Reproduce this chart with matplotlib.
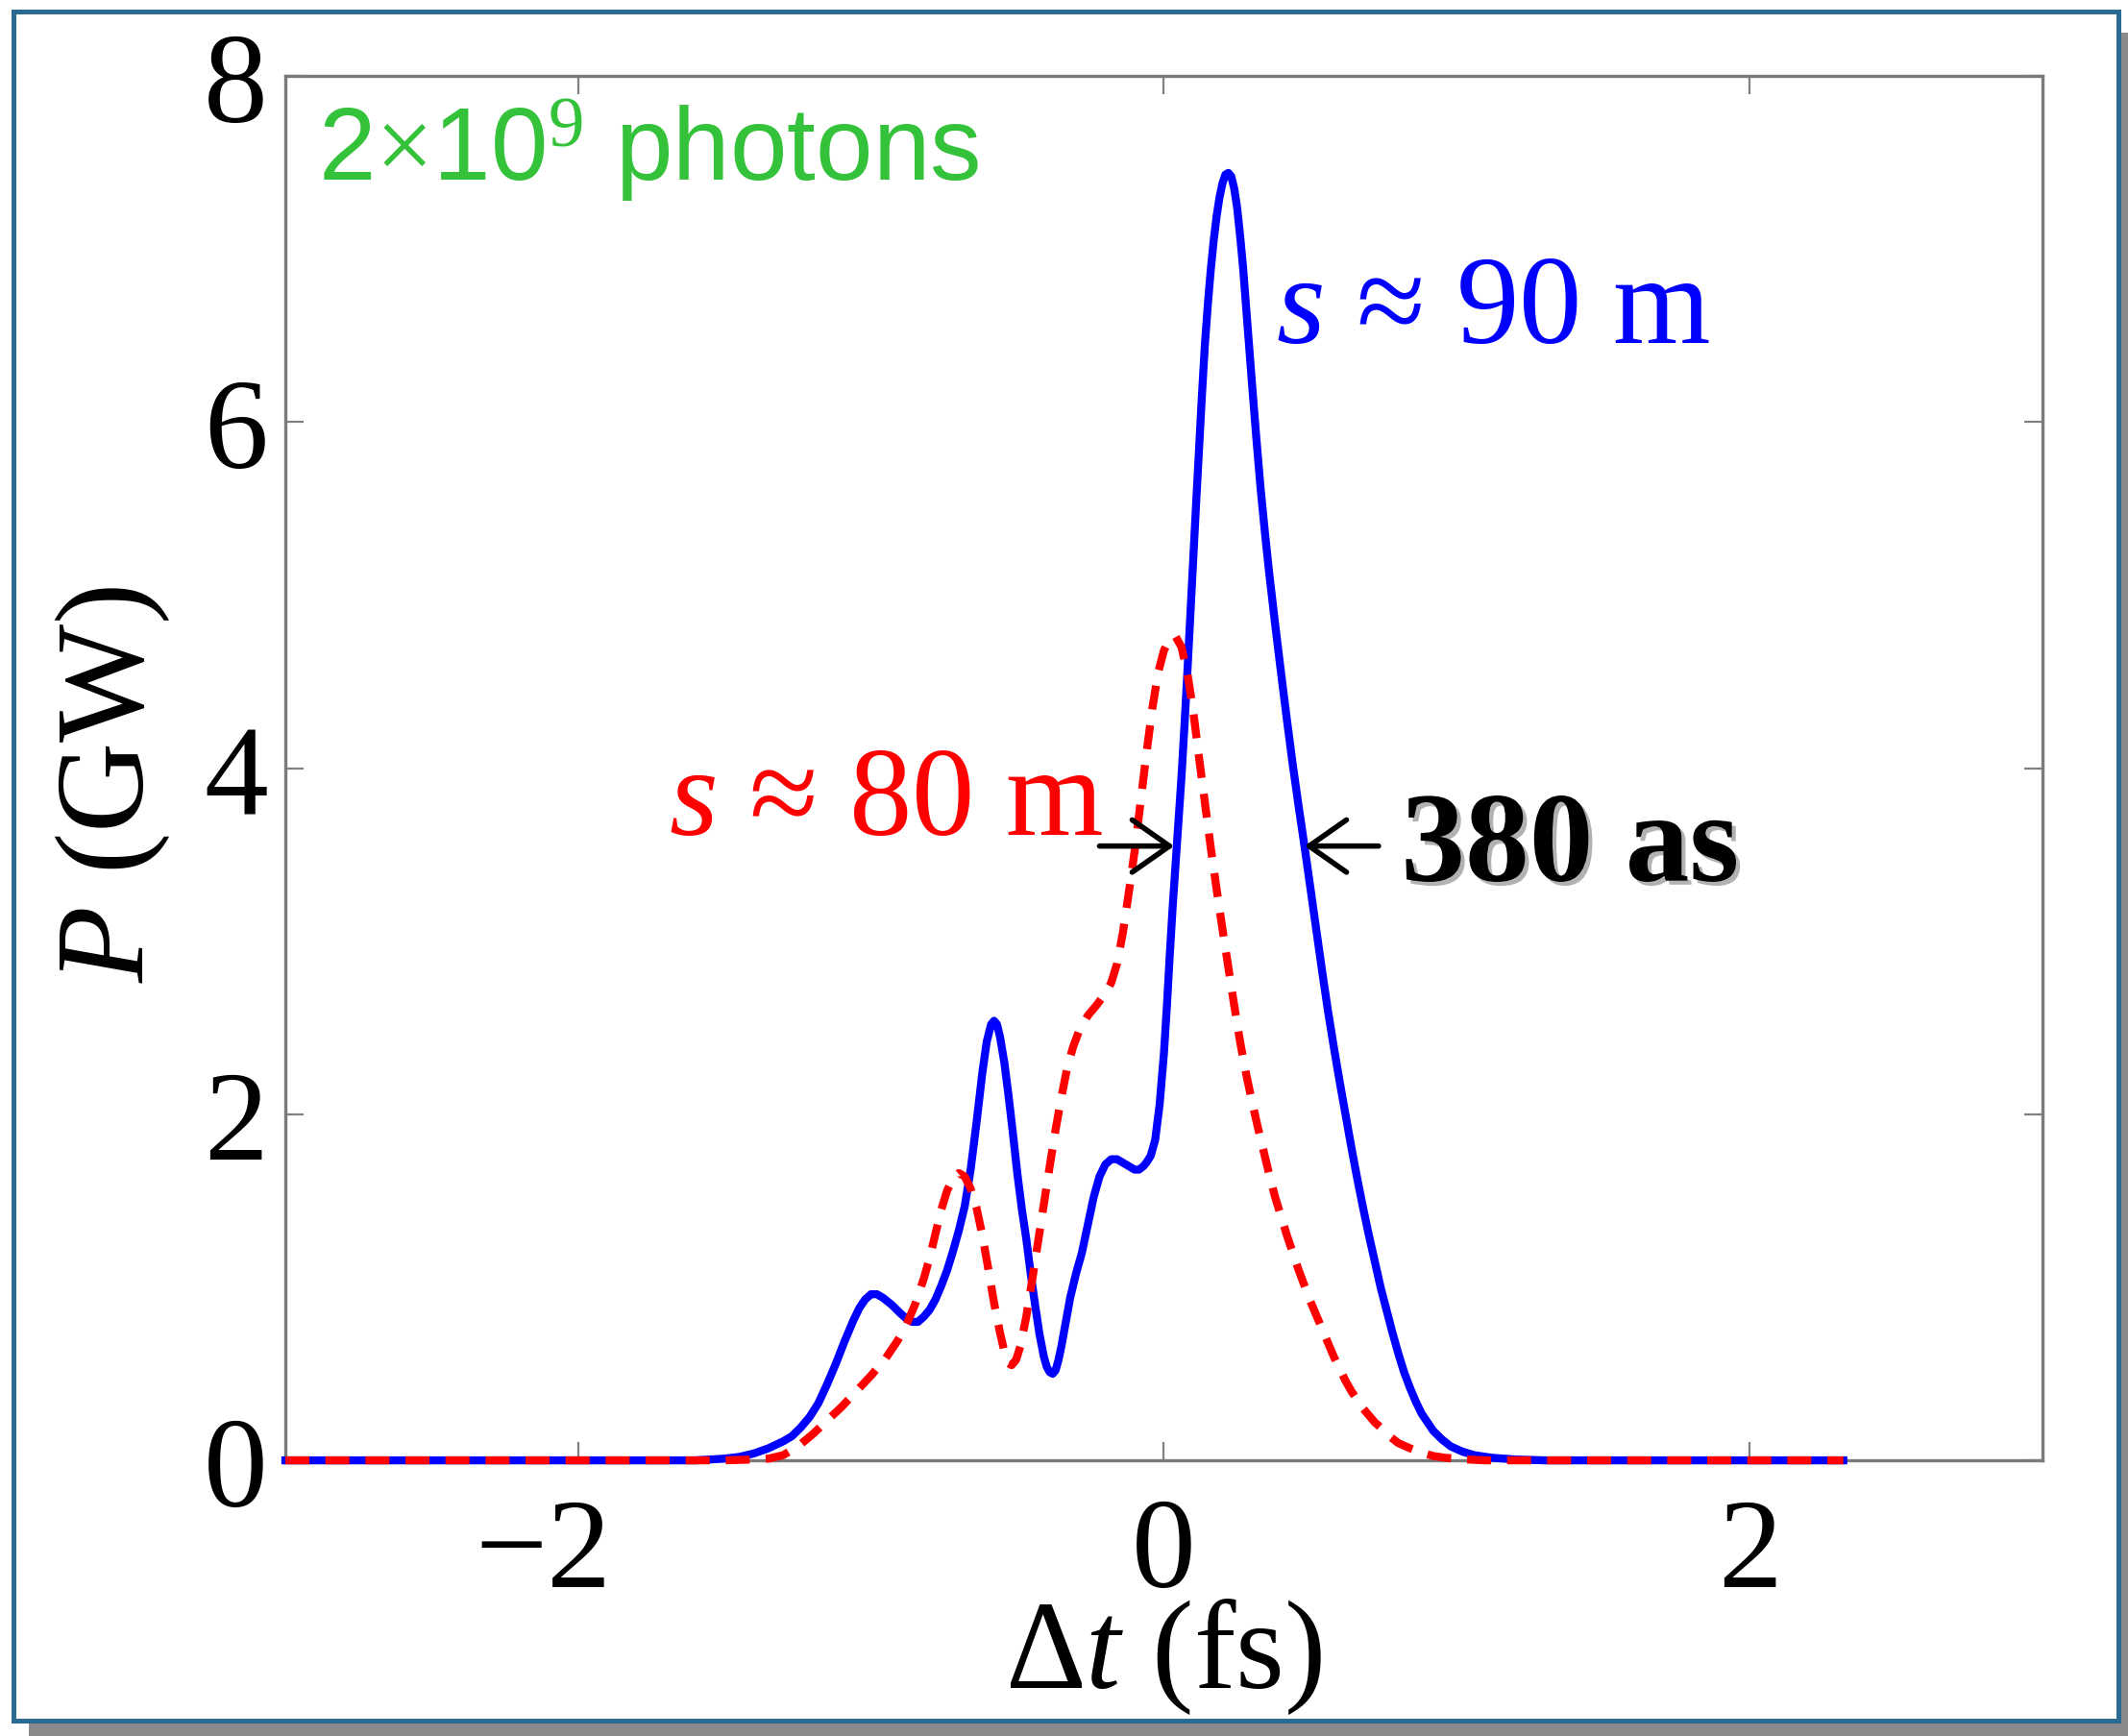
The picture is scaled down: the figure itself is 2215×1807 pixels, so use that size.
import numpy as np
import matplotlib
matplotlib.use('Agg')
import matplotlib.pyplot as plt
import matplotlib.patheffects as pe
from matplotlib.patches import Rectangle
from matplotlib.transforms import ScaledTranslation

# s ~ 90 m (solid blue)
blue_t = [-3.0, -1.60, -1.50, -1.45, -1.40, -1.35, -1.30, -1.27, -1.24, -1.21, -1.18,
          -1.15, -1.12, -1.09, -1.06, -1.04, -1.02, -1.00, -0.98, -0.96, -0.93, -0.90,
          -0.88, -0.86, -0.84, -0.82, -0.80, -0.78, -0.76, -0.74, -0.72, -0.70, -0.68,
          -0.66, -0.64, -0.62, -0.605, -0.59, -0.58, -0.57, -0.56, -0.545, -0.53, -0.515,
          -0.50, -0.485, -0.47, -0.455, -0.44, -0.425, -0.41, -0.40, -0.39, -0.38, -0.37,
          -0.36, -0.35, -0.335, -0.32, -0.30, -0.28, -0.26, -0.24, -0.22, -0.20, -0.18,
          -0.16, -0.14, -0.12, -0.10, -0.085, -0.07, -0.06, -0.045, -0.03, -0.015, 0.00,
          0.01, 0.02, 0.03, 0.04, 0.05, 0.06, 0.07, 0.08, 0.09, 0.10, 0.11, 0.12, 0.13,
          0.14, 0.15, 0.16, 0.17, 0.18, 0.19, 0.20, 0.21, 0.22, 0.23, 0.24, 0.25, 0.26,
          0.27, 0.28, 0.29, 0.30, 0.315, 0.33, 0.345, 0.36, 0.38, 0.40, 0.42, 0.44, 0.46,
          0.48, 0.50, 0.52, 0.54, 0.56, 0.58, 0.60, 0.62, 0.64, 0.66, 0.68, 0.70, 0.72,
          0.74, 0.76, 0.78, 0.80, 0.82, 0.84, 0.86, 0.88, 0.90, 0.92, 0.95, 0.98, 1.02,
          1.06, 1.12, 1.20, 1.30, 2.32]
blue_p = [0.0, 0.0, 0.01, 0.02, 0.04, 0.07, 0.11, 0.14, 0.19, 0.25, 0.33,
          0.44, 0.56, 0.69, 0.81, 0.88, 0.93, 0.96, 0.96, 0.94, 0.90, 0.85,
          0.82, 0.80, 0.80, 0.83, 0.87, 0.93, 1.01, 1.10, 1.21, 1.33, 1.47,
          1.68, 1.95, 2.24, 2.42, 2.52, 2.54, 2.52, 2.45, 2.30, 2.10, 1.88,
          1.65, 1.45, 1.28, 1.08, 0.90, 0.73, 0.60, 0.54, 0.51, 0.50, 0.52,
          0.58, 0.66, 0.80, 0.94, 1.08, 1.20, 1.36, 1.52, 1.64, 1.71, 1.74,
          1.74, 1.72, 1.70, 1.68, 1.68, 1.70, 1.72, 1.76, 1.85, 2.05, 2.35,
          2.62, 2.92, 3.20, 3.45, 3.70, 3.95, 4.24, 4.55, 4.88, 5.20, 5.53, 5.85, 6.16,
          6.45, 6.68, 6.88, 7.05, 7.19, 7.30, 7.38, 7.43, 7.44, 7.42, 7.35, 7.24, 7.08,
          6.90, 6.68, 6.46, 6.24, 5.92, 5.62, 5.36, 5.12, 4.83, 4.55, 4.28, 4.02, 3.78,
          3.55, 3.31, 3.07, 2.83, 2.60, 2.39, 2.19, 2.00, 1.81, 1.63, 1.46, 1.30, 1.15,
          1.00, 0.87, 0.74, 0.62, 0.51, 0.42, 0.34, 0.27, 0.22, 0.17, 0.12, 0.08, 0.05,
          0.03, 0.015, 0.005, 0.0, 0.0]

# s ~ 80 m (dashed red)
red_t = [-3.0, -1.50, -1.40, -1.35, -1.30, -1.25, -1.20, -1.15, -1.10, -1.05, -1.00,
         -0.95, -0.91, -0.88, -0.85, -0.82, -0.80, -0.78, -0.76, -0.74, -0.72, -0.70,
         -0.68, -0.66, -0.64, -0.62, -0.60, -0.58, -0.56, -0.545, -0.53, -0.52, -0.505,
         -0.49, -0.47, -0.45, -0.43, -0.41, -0.39, -0.37, -0.35, -0.33, -0.31, -0.29,
         -0.26, -0.23, -0.20, -0.18, -0.16, -0.14, -0.12, -0.10, -0.08, -0.06, -0.04,
         -0.02, 0.00, 0.02, 0.04, 0.06, 0.08, 0.10, 0.12, 0.14, 0.16, 0.18, 0.20, 0.22,
         0.24, 0.26, 0.28, 0.30, 0.32, 0.34, 0.36, 0.38, 0.40, 0.42, 0.44, 0.46, 0.48,
         0.50, 0.52, 0.54, 0.56, 0.58, 0.60, 0.62, 0.64, 0.66, 0.68, 0.70, 0.72, 0.74,
         0.77, 0.80, 0.84, 0.88, 0.92, 0.96, 1.02, 1.10, 2.32]
red_p = [0.0, 0.0, 0.005, 0.01, 0.03, 0.08, 0.15, 0.23, 0.31, 0.40, 0.49,
         0.59, 0.69, 0.78, 0.90, 1.05, 1.17, 1.31, 1.45, 1.56, 1.63, 1.66,
         1.64, 1.57, 1.46, 1.30, 1.11, 0.91, 0.74, 0.63, 0.56, 0.55, 0.58,
         0.66, 0.83, 1.04, 1.26, 1.48, 1.70, 1.91, 2.10, 2.27, 2.39, 2.48,
         2.57, 2.63, 2.70, 2.76, 2.87, 3.05, 3.28, 3.52, 3.80, 4.08, 4.34,
         4.55, 4.68, 4.75, 4.76, 4.70, 4.55, 4.33, 4.06, 3.80, 3.54, 3.30, 3.07, 2.85,
         2.63, 2.42, 2.24, 2.08, 1.93, 1.79, 1.65, 1.52, 1.41, 1.30, 1.20, 1.10, 1.01,
         0.92, 0.84, 0.76, 0.68, 0.60, 0.53, 0.46, 0.40, 0.35, 0.30, 0.26, 0.22, 0.19,
         0.14, 0.10, 0.07, 0.045, 0.025, 0.015, 0.006, 0.0, 0.0]

x_ticks = [-2, 0, 2]
y_ticks = [0, 2, 4, 6, 8]

plt.rcParams['font.family'] = ['Liberation Serif', 'DejaVu Serif']
plt.rcParams['mathtext.fontset'] = 'custom'
plt.rcParams['mathtext.rm'] = 'Liberation Serif'
plt.rcParams['mathtext.it'] = 'Liberation Serif:italic'
plt.rcParams['mathtext.bf'] = 'Liberation Serif:bold'
plt.rcParams['mathtext.sf'] = 'Liberation Sans'

fig = plt.figure(figsize=(22.15, 18.08), dpi=100)
fig.patch.set_facecolor('white')

# drop shadow + framed panel
fig.patches.append(Rectangle((30 / 2215, 0), 1 - 30 / 2215, 1 - 35 / 1808,
                             transform=fig.transFigure, facecolor='#8a8a8a',
                             edgecolor='none', zorder=-3))
fig.patches.append(Rectangle((14 / 2215, 16 / 1808), 0.989, 0.984,
                             transform=fig.transFigure, facecolor='white',
                             edgecolor='#2b6a92', linewidth=3.6, zorder=-2))

ax = fig.add_axes([0.1341, 0.1587, 0.8257, 0.7970])
ax.patch.set_alpha(0)

ax.plot(blue_t, blue_p, color='#0000ff', lw=6, solid_joinstyle='round',
        clip_on=False, zorder=3)
ax.plot(red_t, red_p, color='#ff0000', lw=6, dashes=(3, 2), dash_joinstyle='round',
        clip_on=False, zorder=4)

ax.set_xlim(-3, 3)
ax.set_ylim(0, 8)
ax.set_xticks(x_ticks)
ax.set_yticks(y_ticks)
ax.tick_params(direction='in', top=True, right=True, length=14, width=1.6,
               color='#808080', labelsize=96)
ax.tick_params(axis='x', pad=27)
ax.tick_params(axis='y', pad=13)
for sp in ax.spines.values():
    sp.set_color('#7a7a7a')
    sp.set_linewidth(2.4)

# matlab-style: the minus sign hangs left of the centred digit
lbl = ax.get_xticklabels()[0]
lbl.set_transform(lbl.get_transform() + ScaledTranslation(-0.36, 0, fig.dpi_scale_trans))

ax.set_xlabel('Δ$t$ (fs)', fontsize=94)
ax.xaxis.set_label_coords(0.5, -0.1635)
ax.xaxis.label.set_va('baseline')
ax.set_ylabel('$P$ (GW)', fontsize=94)
ax.yaxis.set_label_coords(-0.098, 0.489)
ax.yaxis.label.set_va('center')

ax.text(-2.89, 7.40, '2$\\times$10$^{9}$ photons', color='#33c23a', fontsize=77,
        family=['Liberation Sans', 'DejaVu Sans'], va='baseline')
ax.text(0.382, 6.46, '$s$ ≈ 90 m', color='#0000ff', fontsize=94, va='baseline')
ax.text(-1.69, 3.62, '$s$ ≈ 80 m', color='#ff0000', fontsize=94, va='baseline')
ax.text(0.81, 3.35, '380 as', color='black', fontsize=96, weight='bold', va='baseline',
        path_effects=[pe.withSimplePatchShadow(offset=(3, -3), shadow_rgbFace='#808080',
                                               alpha=0.6)])

arrow_kw = dict(arrowstyle='->,head_length=0.4,head_width=0.28', lw=4, color='black',
                mutation_scale=70, shrinkA=0, shrinkB=0)
ax.annotate('', xy=(0.035, 3.55), xytext=(-0.22, 3.55), arrowprops=arrow_kw, zorder=5)
ax.annotate('', xy=(0.48, 3.55), xytext=(0.733, 3.55), arrowprops=arrow_kw, zorder=5)

fig.savefig('out.png', dpi=100)
